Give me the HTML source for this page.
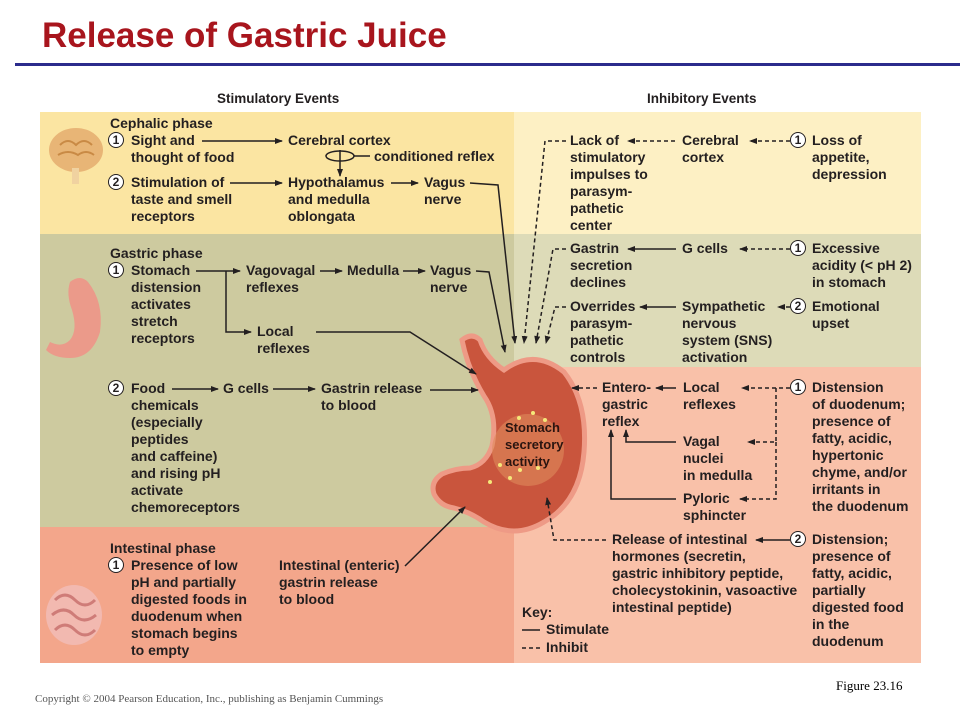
<!DOCTYPE html>
<html><head><meta charset="utf-8"><style>
body{margin:0;width:960px;height:720px;background:#fff;position:relative;overflow:hidden;font-family:"Liberation Sans",Arial,sans-serif}
.t{position:absolute;font-weight:bold;font-size:14px;line-height:17px;color:#231f20;white-space:nowrap}
.h{position:absolute;font-weight:bold;font-size:13.5px;color:#231f20;white-space:nowrap}
.c{position:absolute;width:14px;height:14px;border:1.5px solid #231f20;border-radius:50%;background:#fff;font-weight:bold;font-size:12px;line-height:14px;text-align:center;color:#231f20}
.bg{position:absolute}
</style></head><body>
<div style="position:absolute;left:42px;top:16px;font-size:35px;font-weight:bold;color:#a8151d">Release of Gastric Juice</div>
<div style="position:absolute;left:15px;top:63px;width:945px;height:3px;background:#2b2b8c"></div>

<div class="bg" style="left:40px;top:112px;width:474px;height:122px;background:#fbe5a2"></div>
<div class="bg" style="left:514px;top:112px;width:407px;height:122px;background:#fdf0c4"></div>
<div class="bg" style="left:40px;top:234px;width:474px;height:293px;background:#cdca9f"></div>
<div class="bg" style="left:514px;top:234px;width:407px;height:133px;background:#dddbb8"></div>
<div class="bg" style="left:40px;top:527px;width:474px;height:136px;background:#f3a68b"></div>
<div class="bg" style="left:514px;top:367px;width:407px;height:296px;background:#f9c1a9"></div>

<div class="h" style="left:217px;top:91px">Stimulatory Events</div>
<div class="h" style="left:647px;top:91px">Inhibitory Events</div>

<svg width="960" height="720" style="position:absolute;left:0;top:0">
<defs><marker id="a" markerWidth="8" markerHeight="6" refX="7" refY="3" orient="auto" markerUnits="userSpaceOnUse"><path d="M0,0L8,3L0,6z" fill="#231f20"/></marker></defs>
<ellipse cx="76" cy="150" rx="27" ry="22" fill="#e8b576"/>
<path d="M60,145q8,-8 16,0q8,-8 16,0M58,155q10,-6 20,0q8,-6 16,0" stroke="#c98a45" fill="none" stroke-width="2"/>
<rect x="72" y="168" width="7" height="16" fill="#f0d2a0"/>
<path d="M70,282q10,-8 18,0q16,20 12,50q-8,26 -30,26q-16,0 -24,-8l4,-8q12,6 20,-2q8,-10 2,-30q-6,-16 -2,-28z" fill="#eb9a8a"/>
<ellipse cx="74" cy="615" rx="28" ry="30" fill="#f2b9b0"/>
<path d="M55,600q10,-10 20,0t20,0M52,615q12,-10 22,0t22,0M55,630q10,-10 20,0t20,0" stroke="#cf7c78" fill="none" stroke-width="3"/>
<path d="M462,340q10,-8 18,0q6,18 24,30q30,-22 60,2q24,30 20,80q-4,50 -40,70q-30,18 -60,0q-14,-10 -30,-14q-14,-2 -20,-14q-4,-12 8,-20q14,-6 28,-6q16,-4 22,-22q6,-30 -8,-50q-16,-26 -22,-56z" fill="#c9553d" stroke="#ee9a86" stroke-width="5"/>
<ellipse cx="528" cy="450" rx="36" ry="36" fill="#e08a5c" opacity=".6"/>
<g fill="#f5e87a"><circle cx="519" cy="418" r="2"/><circle cx="533" cy="413" r="2"/><circle cx="545" cy="420" r="2"/><circle cx="500" cy="465" r="2"/><circle cx="510" cy="478" r="2"/><circle cx="520" cy="470" r="2"/><circle cx="490" cy="482" r="2"/><circle cx="538" cy="468" r="2"/></g>
<g stroke="#231f20" stroke-width="1.5" fill="none">
<line x1="202" y1="141" x2="282" y2="141" marker-end="url(#a)"/>
<line x1="340" y1="150" x2="340" y2="176" marker-end="url(#a)"/>
<ellipse cx="340" cy="156" rx="14" ry="5"/>
<line x1="354" y1="156" x2="370" y2="156"/>
<line x1="230" y1="183" x2="282" y2="183" marker-end="url(#a)"/>
<line x1="391" y1="183" x2="418" y2="183" marker-end="url(#a)"/>
<polyline points="470,183 498,185 515,343" marker-end="url(#a)"/>
<line x1="196" y1="271" x2="240" y2="271" marker-end="url(#a)"/>
<polyline points="226,271 226,332 251,332" marker-end="url(#a)"/>
<line x1="320" y1="271" x2="342" y2="271" marker-end="url(#a)"/>
<line x1="403" y1="271" x2="425" y2="271" marker-end="url(#a)"/>
<polyline points="476,271 489,272 505,352" marker-end="url(#a)"/>
<polyline points="316,332 410,332 476,374" marker-end="url(#a)"/>
<line x1="172" y1="389" x2="218" y2="389" marker-end="url(#a)"/>
<line x1="273" y1="389" x2="315" y2="389" marker-end="url(#a)"/>
<line x1="430" y1="390" x2="478" y2="390" marker-end="url(#a)"/>
<line x1="405" y1="566" x2="465" y2="507" marker-end="url(#a)"/>
<line x1="676" y1="249" x2="628" y2="249" marker-end="url(#a)"/>
<line x1="676" y1="307" x2="640" y2="307" marker-end="url(#a)"/>
<line x1="676" y1="388" x2="656" y2="388" marker-end="url(#a)"/>
<polyline points="676,442 626,442 626,430" marker-end="url(#a)"/>
<polyline points="676,499 611,499 611,430" marker-end="url(#a)"/>
<line x1="790" y1="540" x2="756" y2="540" marker-end="url(#a)"/>
<line x1="522" y1="630" x2="540" y2="630"/>
</g>
<g stroke="#231f20" stroke-width="1.5" fill="none" stroke-dasharray="4,3">
<polyline points="566,141 545,141 524,343" marker-end="url(#a)"/>
<polyline points="566,249 553,249 536,343" marker-end="url(#a)"/>
<polyline points="566,307 555,307 546,343" marker-end="url(#a)"/>
<line x1="675" y1="141" x2="628" y2="141" marker-end="url(#a)"/>
<line x1="790" y1="141" x2="750" y2="141" marker-end="url(#a)"/>
<line x1="790" y1="249" x2="740" y2="249" marker-end="url(#a)"/>
<line x1="790" y1="307" x2="778" y2="307" marker-end="url(#a)"/>
<line x1="597" y1="388" x2="572" y2="388" marker-end="url(#a)"/>
<line x1="790" y1="388" x2="742" y2="388" marker-end="url(#a)"/>
<polyline points="776,388 776,442 748,442" marker-end="url(#a)"/>
<polyline points="776,442 776,499 740,499" marker-end="url(#a)"/>
<polyline points="606,540 554,540 547,498" marker-end="url(#a)"/>
<line x1="522" y1="648" x2="540" y2="648"/>
</g>
</svg>

<div class="t" style="left:110px;top:115px">Cephalic phase</div>
<div class="c" style="left:108px;top:132px">1</div>
<div class="t" style="left:131px;top:132px">Sight and<br>thought of food</div>
<div class="t" style="left:288px;top:132px">Cerebral cortex</div>
<div class="t" style="left:374px;top:148px">conditioned reflex</div>
<div class="c" style="left:108px;top:174px">2</div>
<div class="t" style="left:131px;top:174px">Stimulation of<br>taste and smell<br>receptors</div>
<div class="t" style="left:288px;top:174px">Hypothalamus<br>and medulla<br>oblongata</div>
<div class="t" style="left:424px;top:174px">Vagus<br>nerve</div>

<div class="t" style="left:110px;top:245px">Gastric phase</div>
<div class="c" style="left:108px;top:262px">1</div>
<div class="t" style="left:131px;top:262px">Stomach<br>distension<br>activates<br>stretch<br>receptors</div>
<div class="t" style="left:246px;top:262px">Vagovagal<br>reflexes</div>
<div class="t" style="left:347px;top:262px">Medulla</div>
<div class="t" style="left:430px;top:262px">Vagus<br>nerve</div>
<div class="t" style="left:257px;top:323px">Local<br>reflexes</div>
<div class="c" style="left:108px;top:380px">2</div>
<div class="t" style="left:131px;top:380px">Food<br>chemicals<br>(especially<br>peptides<br>and caffeine)<br>and rising pH<br>activate<br>chemoreceptors</div>
<div class="t" style="left:223px;top:380px">G cells</div>
<div class="t" style="left:321px;top:380px">Gastrin release<br>to blood</div>

<div class="t" style="left:110px;top:540px">Intestinal phase</div>
<div class="c" style="left:108px;top:557px">1</div>
<div class="t" style="left:131px;top:557px">Presence of low<br>pH and partially<br>digested foods in<br>duodenum when<br>stomach begins<br>to empty</div>
<div class="t" style="left:279px;top:557px">Intestinal (enteric)<br>gastrin release<br>to blood</div>

<div class="t" style="left:505px;top:419px;font-size:13px;color:#2a1410">Stomach<br>secretory<br>activity</div>

<div class="t" style="left:570px;top:132px">Lack of<br>stimulatory<br>impulses to<br>parasym-<br>pathetic<br>center</div>
<div class="t" style="left:682px;top:132px">Cerebral<br>cortex</div>
<div class="c" style="left:790px;top:132px">1</div>
<div class="t" style="left:812px;top:132px">Loss of<br>appetite,<br>depression</div>
<div class="t" style="left:570px;top:240px">Gastrin<br>secretion<br>declines</div>
<div class="t" style="left:682px;top:240px">G cells</div>
<div class="c" style="left:790px;top:240px">1</div>
<div class="t" style="left:812px;top:240px">Excessive<br>acidity (&lt; pH 2)<br>in stomach</div>
<div class="t" style="left:570px;top:298px">Overrides<br>parasym-<br>pathetic<br>controls</div>
<div class="t" style="left:682px;top:298px">Sympathetic<br>nervous<br>system (SNS)<br>activation</div>
<div class="c" style="left:790px;top:298px">2</div>
<div class="t" style="left:812px;top:298px">Emotional<br>upset</div>
<div class="t" style="left:602px;top:379px">Entero-<br>gastric<br>reflex</div>
<div class="t" style="left:683px;top:379px">Local<br>reflexes</div>
<div class="c" style="left:790px;top:379px">1</div>
<div class="t" style="left:812px;top:379px">Distension<br>of duodenum;<br>presence of<br>fatty, acidic,<br>hypertonic<br>chyme, and/or<br>irritants in<br>the duodenum</div>
<div class="t" style="left:683px;top:433px">Vagal<br>nuclei<br>in medulla</div>
<div class="t" style="left:683px;top:490px">Pyloric<br>sphincter</div>
<div class="t" style="left:612px;top:531px">Release of intestinal<br>hormones (secretin,<br>gastric inhibitory peptide,<br>cholecystokinin, vasoactive<br>intestinal peptide)</div>
<div class="c" style="left:790px;top:531px">2</div>
<div class="t" style="left:812px;top:531px">Distension;<br>presence of<br>fatty, acidic,<br>partially<br>digested food<br>in the<br>duodenum</div>
<div class="t" style="left:522px;top:604px">Key:</div>
<div class="t" style="left:546px;top:621px">Stimulate</div>
<div class="t" style="left:546px;top:639px">Inhibit</div>

<div style="position:absolute;left:836px;top:678px;font-family:'Liberation Serif',serif;font-size:13px">Figure 23.16</div>
<div style="position:absolute;left:35px;top:693px;font-family:'Liberation Serif',serif;font-size:11px;color:#555">Copyright © 2004 Pearson Education, Inc., publishing as Benjamin Cummings</div>
</body></html>
